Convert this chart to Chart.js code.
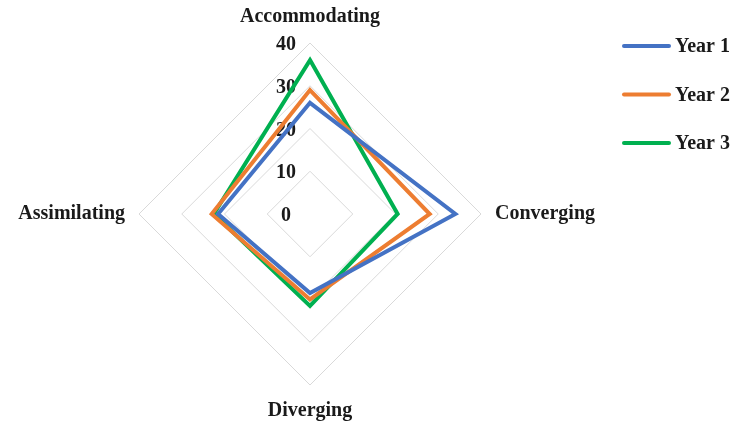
<!DOCTYPE html>
<html>
<head>
<meta charset="utf-8">
<script src="https://cdn.jsdelivr.net/npm/chart.js@4"></script>
<style>
  html, body { margin: 0; padding: 0; background: #fff; }
  #wrap { width: 738px; height: 423px; }
</style>
</head>
<body>
<div id="wrap"><canvas id="myChart" width="738" height="423"></canvas></div>
<script>
// categories and series
const styles = ["Accommodating", "Converging", "Diverging", "Assimilating"];
const year1 = [26, 34, 18.5, 21.5];
const year2 = [29, 28, 20, 23];
const year3 = [36, 20.5, 21.5, 22.5];
const tickValues = [0, 10, 20, 30, 40];

const serif = '"Liberation Serif", "DejaVu Serif", serif';
const textFont = "bold 20px " + serif;

// draws the scale numbers a bit left of the vertical axis, like Excel does
const tickLabels = {
  id: "tickLabels",
  beforeDatasetsDraw(chart) {
    const r = chart.scales.r;
    const ctx = chart.ctx;
    ctx.save();
    ctx.font = textFont;
    ctx.fillStyle = "#1a1a1a";
    ctx.textAlign = "center";
    ctx.textBaseline = "middle";
    tickValues.forEach(v => {
      const d = r.getDistanceFromCenterForValue(v);
      ctx.fillText(String(v), r.xCenter - 24, r.yCenter - d + 2);
    });
    ctx.restore();
  }
};

// legend on the right, drawn by hand so it doesn't squeeze the radar
const sideLegend = {
  id: "sideLegend",
  afterDraw(chart) {
    const ctx = chart.ctx;
    ctx.save();
    ctx.font = textFont;
    ctx.textBaseline = "middle";
    ctx.textAlign = "left";
    chart.data.datasets.forEach((ds, i) => {
      const y = 46 + i * 48.5;
      ctx.strokeStyle = ds.borderColor;
      ctx.lineWidth = 4;
      ctx.lineCap = "round";
      ctx.beginPath();
      ctx.moveTo(624, y);
      ctx.lineTo(669, y);
      ctx.stroke();
      ctx.fillStyle = "#1a1a1a";
      ctx.fillText(ds.label, 675, y + 1);
    });
    ctx.restore();
  }
};

const ctx = document.getElementById("myChart").getContext("2d");

new Chart(ctx, {
  type: "radar",
  data: {
    labels: styles,
    datasets: [
      { label: "Year 1", data: year1, borderColor: "#4472C4", backgroundColor: "#4472C4" },
      { label: "Year 2", data: year2, borderColor: "#ED7D31", backgroundColor: "#ED7D31" },
      { label: "Year 3", data: year3, borderColor: "#00B050", backgroundColor: "#00B050" }
    ]
  },
  options: {
    responsive: false,
    animation: false,
    layout: { padding: { top: 5, bottom: -11, left: -34, right: 124 } },
    elements: {
      line: { borderWidth: 4, tension: 0, fill: false },
      point: { radius: 0, hoverRadius: 0 }
    },
    plugins: {
      legend: { display: false },
      tooltip: { enabled: false }
    },
    scales: {
      r: {
        min: 0,
        max: 40,
        ticks: {
          stepSize: 10,
          color: "rgba(0,0,0,0)",
          showLabelBackdrop: false
        },
        grid: { color: "#d9d9d9", lineWidth: 1 },
        angleLines: { display: false },
        pointLabels: {
          padding: 6,
          color: "#1a1a1a",
          font: { family: serif, size: 20, weight: "bold" }
        }
      }
    }
  },
  plugins: [tickLabels, sideLegend]
});
</script>
</body>
</html>
